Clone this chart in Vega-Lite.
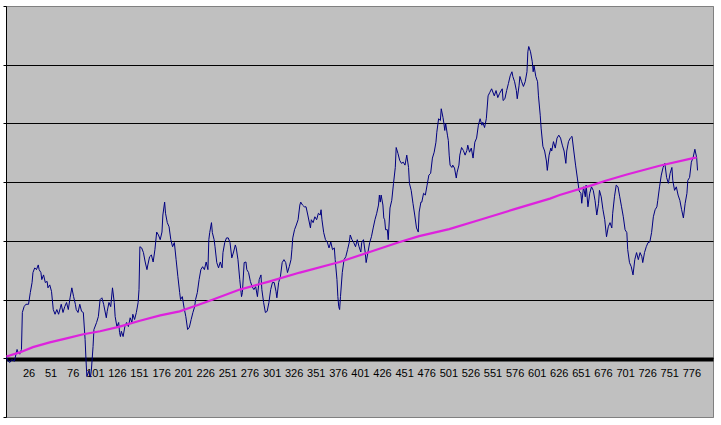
{
"$schema": "https://vega.github.io/schema/vega-lite/v6.json",
"width": 707, "height": 411,
"autosize": "none",
"padding": {"left": 6, "top": 6, "right": 8, "bottom": 8},
"background": "white",
"config": {"view": {"fill": "#C0C0C0", "stroke": "#808080", "strokeWidth": 1}},
"datasets": {
"price": [
{"i":1,"v":0.2},{"i":3,"v":-0.5},{"i":5,"v":-0.7},{"i":7,"v":-0.2},{"i":10,"v":-0.5},{"i":13,"v":1.5},{"i":14,"v":1.0},{"i":16,"v":0.7},{"i":18,"v":1.5},{"i":19,"v":7.8},{"i":21,"v":8.8},{"i":23,"v":9.2},{"i":26,"v":9.2},{"i":28,"v":11.2},{"i":30,"v":12.9},{"i":31,"v":14.6},{"i":33,"v":15.4},{"i":35,"v":15.1},{"i":37,"v":15.9},{"i":38,"v":15.1},{"i":40,"v":14.6},{"i":41,"v":13.4},{"i":43,"v":14.2},{"i":45,"v":12.9},{"i":47,"v":13.1},{"i":48,"v":12.0},{"i":50,"v":12.5},{"i":52,"v":11.4},{"i":54,"v":8.3},{"i":56,"v":7.5},{"i":58,"v":8.3},{"i":60,"v":7.5},{"i":62,"v":8.6},{"i":63,"v":9.2},{"i":65,"v":7.8},{"i":67,"v":8.8},{"i":69,"v":9.5},{"i":71,"v":8.3},{"i":73,"v":10.3},{"i":75,"v":12.0},{"i":77,"v":10.5},{"i":79,"v":9.2},{"i":80,"v":8.3},{"i":82,"v":7.8},{"i":84,"v":9.2},{"i":86,"v":8.0},{"i":88,"v":7.8},{"i":90,"v":3.2},{"i":91,"v":-0.2},{"i":92,"v":-3.1},{"i":94,"v":-2.2},{"i":96,"v":-3.2},{"i":97,"v":-2.2},{"i":99,"v":2.0},{"i":100,"v":4.9},{"i":103,"v":6.1},{"i":105,"v":7.1},{"i":107,"v":10.0},{"i":109,"v":10.3},{"i":111,"v":9.2},{"i":114,"v":6.9},{"i":115,"v":8.0},{"i":117,"v":9.5},{"i":119,"v":8.8},{"i":121,"v":12.0},{"i":123,"v":9.5},{"i":124,"v":7.1},{"i":126,"v":5.4},{"i":128,"v":6.1},{"i":129,"v":4.4},{"i":130,"v":3.7},{"i":131,"v":4.6},{"i":133,"v":3.7},{"i":135,"v":5.4},{"i":137,"v":6.1},{"i":139,"v":5.4},{"i":141,"v":6.9},{"i":143,"v":6.1},{"i":144,"v":7.5},{"i":146,"v":6.6},{"i":148,"v":7.8},{"i":150,"v":9.5},{"i":151,"v":11.7},{"i":152,"v":19.0},{"i":154,"v":18.8},{"i":156,"v":18.0},{"i":158,"v":16.4},{"i":160,"v":15.1},{"i":161,"v":15.9},{"i":163,"v":17.3},{"i":165,"v":17.6},{"i":167,"v":16.4},{"i":169,"v":18.5},{"i":171,"v":21.5},{"i":173,"v":21.0},{"i":175,"v":20.2},{"i":177,"v":21.5},{"i":178,"v":24.4},{"i":180,"v":26.6},{"i":181,"v":24.7},{"i":183,"v":23.1},{"i":185,"v":22.4},{"i":187,"v":20.2},{"i":189,"v":19.0},{"i":191,"v":19.7},{"i":193,"v":16.8},{"i":195,"v":13.9},{"i":197,"v":11.2},{"i":198,"v":10.0},{"i":200,"v":10.5},{"i":202,"v":8.6},{"i":204,"v":7.1},{"i":206,"v":4.9},{"i":208,"v":5.3},{"i":210,"v":6.6},{"i":212,"v":7.8},{"i":214,"v":8.8},{"i":215,"v":10.0},{"i":217,"v":11.2},{"i":219,"v":13.4},{"i":221,"v":15.1},{"i":223,"v":15.6},{"i":225,"v":15.1},{"i":227,"v":16.4},{"i":229,"v":15.1},{"i":230,"v":20.2},{"i":231,"v":21.4},{"i":233,"v":23.1},{"i":234,"v":21.4},{"i":236,"v":20.2},{"i":237,"v":19.0},{"i":239,"v":16.3},{"i":241,"v":15.4},{"i":243,"v":16.4},{"i":245,"v":15.4},{"i":246,"v":18.0},{"i":248,"v":19.7},{"i":250,"v":20.5},{"i":252,"v":20.5},{"i":254,"v":19.7},{"i":256,"v":17.1},{"i":258,"v":18.1},{"i":260,"v":19.3},{"i":261,"v":18.8},{"i":263,"v":16.8},{"i":265,"v":13.4},{"i":267,"v":10.5},{"i":268,"v":11.2},{"i":270,"v":16.3},{"i":272,"v":16.4},{"i":273,"v":15.1},{"i":275,"v":14.6},{"i":277,"v":13.1},{"i":279,"v":12.2},{"i":281,"v":11.7},{"i":283,"v":12.2},{"i":285,"v":10.5},{"i":287,"v":13.4},{"i":289,"v":14.2},{"i":290,"v":11.7},{"i":292,"v":9.5},{"i":294,"v":7.8},{"i":296,"v":8.0},{"i":298,"v":9.5},{"i":300,"v":11.7},{"i":302,"v":12.9},{"i":304,"v":12.9},{"i":306,"v":11.4},{"i":307,"v":10.3},{"i":309,"v":12.9},{"i":311,"v":13.9},{"i":313,"v":16.3},{"i":315,"v":16.8},{"i":317,"v":16.3},{"i":319,"v":14.6},{"i":321,"v":15.6},{"i":323,"v":16.8},{"i":324,"v":18.5},{"i":325,"v":20.5},{"i":327,"v":21.9},{"i":329,"v":22.7},{"i":331,"v":23.6},{"i":333,"v":26.1},{"i":334,"v":26.6},{"i":336,"v":26.1},{"i":338,"v":25.8},{"i":340,"v":25.8},{"i":342,"v":24.4},{"i":345,"v":22.2},{"i":346,"v":23.6},{"i":348,"v":23.1},{"i":350,"v":24.1},{"i":352,"v":23.6},{"i":354,"v":24.7},{"i":356,"v":24.4},{"i":357,"v":25.3},{"i":358,"v":23.6},{"i":360,"v":21.4},{"i":362,"v":20.2},{"i":364,"v":19.8},{"i":366,"v":18.8},{"i":368,"v":19.8},{"i":370,"v":18.5},{"i":372,"v":18.8},{"i":373,"v":16.8},{"i":375,"v":13.4},{"i":376,"v":10.5},{"i":377,"v":8.8},{"i":378,"v":8.3},{"i":379,"v":10.5},{"i":381,"v":14.6},{"i":383,"v":16.8},{"i":385,"v":17.3},{"i":387,"v":18.5},{"i":389,"v":19.8},{"i":390,"v":21.0},{"i":392,"v":20.2},{"i":394,"v":19.7},{"i":396,"v":19.0},{"i":398,"v":20.2},{"i":400,"v":19.0},{"i":402,"v":18.1},{"i":403,"v":19.7},{"i":405,"v":20.2},{"i":407,"v":18.0},{"i":408,"v":16.3},{"i":410,"v":18.0},{"i":412,"v":19.7},{"i":414,"v":20.7},{"i":416,"v":22.2},{"i":418,"v":23.6},{"i":420,"v":24.7},{"i":422,"v":26.1},{"i":423,"v":27.8},{"i":424,"v":26.6},{"i":425,"v":27.8},{"i":427,"v":26.1},{"i":428,"v":23.9},{"i":429,"v":23.6},{"i":430,"v":21.9},{"i":432,"v":21.9},{"i":433,"v":20.2},{"i":435,"v":25.6},{"i":437,"v":26.9},{"i":439,"v":29.8},{"i":441,"v":32.5},{"i":442,"v":35.9},{"i":444,"v":34.9},{"i":446,"v":33.7},{"i":448,"v":33.2},{"i":450,"v":33.4},{"i":452,"v":32.9},{"i":454,"v":34.6},{"i":456,"v":32.5},{"i":457,"v":29.8},{"i":459,"v":28.6},{"i":461,"v":26.4},{"i":463,"v":24.4},{"i":465,"v":22.2},{"i":467,"v":21.5},{"i":468,"v":24.9},{"i":470,"v":26.6},{"i":471,"v":26.6},{"i":473,"v":28.1},{"i":475,"v":27.8},{"i":477,"v":29.5},{"i":479,"v":31.2},{"i":481,"v":31.5},{"i":483,"v":34.1},{"i":485,"v":35.1},{"i":487,"v":36.8},{"i":488,"v":38.5},{"i":490,"v":40.8},{"i":492,"v":40.5},{"i":493,"v":42.5},{"i":495,"v":41.0},{"i":496,"v":40.0},{"i":497,"v":38.8},{"i":498,"v":40.0},{"i":500,"v":38.0},{"i":501,"v":37.1},{"i":502,"v":34.6},{"i":503,"v":32.9},{"i":505,"v":32.5},{"i":506,"v":32.9},{"i":508,"v":32.4},{"i":510,"v":30.7},{"i":511,"v":31.7},{"i":513,"v":32.9},{"i":514,"v":34.6},{"i":516,"v":35.9},{"i":518,"v":35.4},{"i":520,"v":34.6},{"i":522,"v":35.4},{"i":523,"v":36.3},{"i":525,"v":35.1},{"i":527,"v":35.8},{"i":529,"v":34.1},{"i":531,"v":36.8},{"i":533,"v":37.5},{"i":535,"v":39.7},{"i":537,"v":40.8},{"i":539,"v":39.7},{"i":540,"v":40.2},{"i":542,"v":39.3},{"i":544,"v":40.8},{"i":546,"v":44.7},{"i":548,"v":45.3},{"i":550,"v":45.9},{"i":553,"v":44.7},{"i":555,"v":45.6},{"i":557,"v":44.4},{"i":559,"v":45.1},{"i":562,"v":45.9},{"i":563,"v":43.9},{"i":565,"v":44.2},{"i":567,"v":45.6},{"i":569,"v":46.8},{"i":571,"v":48.1},{"i":573,"v":48.8},{"i":574,"v":48.0},{"i":576,"v":47.1},{"i":578,"v":45.6},{"i":579,"v":44.2},{"i":581,"v":46.4},{"i":582,"v":48.0},{"i":584,"v":47.1},{"i":586,"v":46.3},{"i":588,"v":47.1},{"i":590,"v":48.8},{"i":591,"v":52.2},{"i":592,"v":53.1},{"i":594,"v":52.2},{"i":596,"v":50.5},{"i":597,"v":48.8},{"i":598,"v":49.8},{"i":600,"v":48.0},{"i":602,"v":47.1},{"i":603,"v":44.7},{"i":605,"v":41.4},{"i":606,"v":39.2},{"i":608,"v":36.1},{"i":610,"v":35.3},{"i":612,"v":33.6},{"i":613,"v":32.0},{"i":615,"v":34.6},{"i":617,"v":35.8},{"i":618,"v":35.3},{"i":620,"v":36.9},{"i":622,"v":35.8},{"i":624,"v":37.5},{"i":626,"v":38.0},{"i":628,"v":37.5},{"i":630,"v":36.3},{"i":632,"v":35.3},{"i":634,"v":33.2},{"i":635,"v":35.3},{"i":637,"v":36.9},{"i":639,"v":37.5},{"i":641,"v":37.8},{"i":643,"v":35.3},{"i":645,"v":32.9},{"i":647,"v":30.7},{"i":649,"v":28.5},{"i":651,"v":28.1},{"i":652,"v":26.4},{"i":654,"v":29.2},{"i":656,"v":27.5},{"i":657,"v":29.5},{"i":659,"v":25.8},{"i":661,"v":28.1},{"i":663,"v":29.2},{"i":665,"v":28.6},{"i":667,"v":26.9},{"i":669,"v":24.4},{"i":671,"v":26.4},{"i":672,"v":28.6},{"i":674,"v":27.5},{"i":676,"v":25.3},{"i":678,"v":23.6},{"i":680,"v":20.7},{"i":682,"v":22.4},{"i":684,"v":23.1},{"i":686,"v":22.2},{"i":687,"v":24.7},{"i":689,"v":27.5},{"i":691,"v":29.5},{"i":693,"v":29.2},{"i":695,"v":27.5},{"i":697,"v":25.8},{"i":699,"v":24.1},{"i":701,"v":21.9},{"i":703,"v":21.4},{"i":704,"v":18.5},{"i":706,"v":16.3},{"i":708,"v":15.6},{"i":710,"v":14.2},{"i":712,"v":16.8},{"i":714,"v":18.0},{"i":716,"v":16.8},{"i":718,"v":18.0},{"i":720,"v":17.3},{"i":721,"v":16.3},{"i":723,"v":18.0},{"i":725,"v":19.0},{"i":727,"v":19.7},{"i":729,"v":19.8},{"i":731,"v":21.4},{"i":733,"v":24.1},{"i":735,"v":25.3},{"i":737,"v":25.8},{"i":738,"v":26.9},{"i":740,"v":29.2},{"i":742,"v":31.2},{"i":744,"v":32.5},{"i":746,"v":33.2},{"i":748,"v":30.8},{"i":750,"v":29.8},{"i":752,"v":31.5},{"i":754,"v":32.5},{"i":755,"v":30.3},{"i":757,"v":28.6},{"i":759,"v":29.2},{"i":761,"v":27.8},{"i":763,"v":26.9},{"i":765,"v":25.3},{"i":767,"v":23.9},{"i":769,"v":26.4},{"i":771,"v":28.1},{"i":772,"v":30.3},{"i":774,"v":30.8},{"i":776,"v":33.4},{"i":778,"v":34.2},{"i":780,"v":35.6},{"i":782,"v":34.2},{"i":783,"v":32.0}
],
"trend": [
{"i":1,"v":0.3},{"i":16,"v":1.0},{"i":31,"v":1.9},{"i":50,"v":2.7},{"i":69,"v":3.4},{"i":88,"v":4.1},{"i":107,"v":4.6},{"i":129,"v":5.4},{"i":152,"v":6.4},{"i":175,"v":7.3},{"i":197,"v":8.0},{"i":220,"v":9.2},{"i":231,"v":9.8},{"i":265,"v":11.7},{"i":299,"v":13.1},{"i":333,"v":14.6},{"i":378,"v":16.4},{"i":412,"v":18.1},{"i":446,"v":19.8},{"i":468,"v":20.8},{"i":502,"v":22.0},{"i":537,"v":23.6},{"i":576,"v":25.4},{"i":616,"v":27.2},{"i":627,"v":27.8},{"i":664,"v":29.5},{"i":678,"v":30.2},{"i":703,"v":31.3},{"i":740,"v":32.8},{"i":778,"v":34.1},{"i":782,"v":34.2}
]
},
"encoding": {
"x": {"field": "i", "type": "quantitative", "title": null,
  "scale": {"domain": [0.5, 800.5], "nice": false, "zero": false},
  "axis": {"values": [26,51,76,101,126,151,176,201,226,251,276,301,326,351,376,401,426,451,476,501,526,551,576,601,626,651,676,701,726,751,776],
    "offset": -58, "grid": false, "ticks": false, "domainColor": "#000000", "domainWidth": 4,
    "labelFont": "Liberation Sans", "labelFontSize": 11, "labelColor": "#000000", "labelPadding": 8,
    "labelFlush": false, "labelOverlap": false}},
"y": {"field": "v", "type": "quantitative", "title": null,
  "scale": {"domain": [-10, 60], "nice": false, "zero": false},
  "axis": {"values": [-10,0,10,20,30,40,50,60], "labels": false, "grid": true,
    "gridColor": {"condition": {"test": "datum.value == 60 || datum.value == -10", "value": "#808080"}, "value": "#000000"},
    "gridWidth": 1, "gridOpacity": 1, "domainColor": "#000000", "domainWidth": 1, "tickColor": "#000000", "tickSize": 3}}
},
"layer": [
{"data": {"name": "price"}, "mark": {"type": "line", "color": "#000080", "strokeWidth": 1, "interpolate": "linear"}},
{"data": {"name": "trend"}, "mark": {"type": "line", "color": "#DD22DD", "strokeWidth": 2.2}}
]
}
